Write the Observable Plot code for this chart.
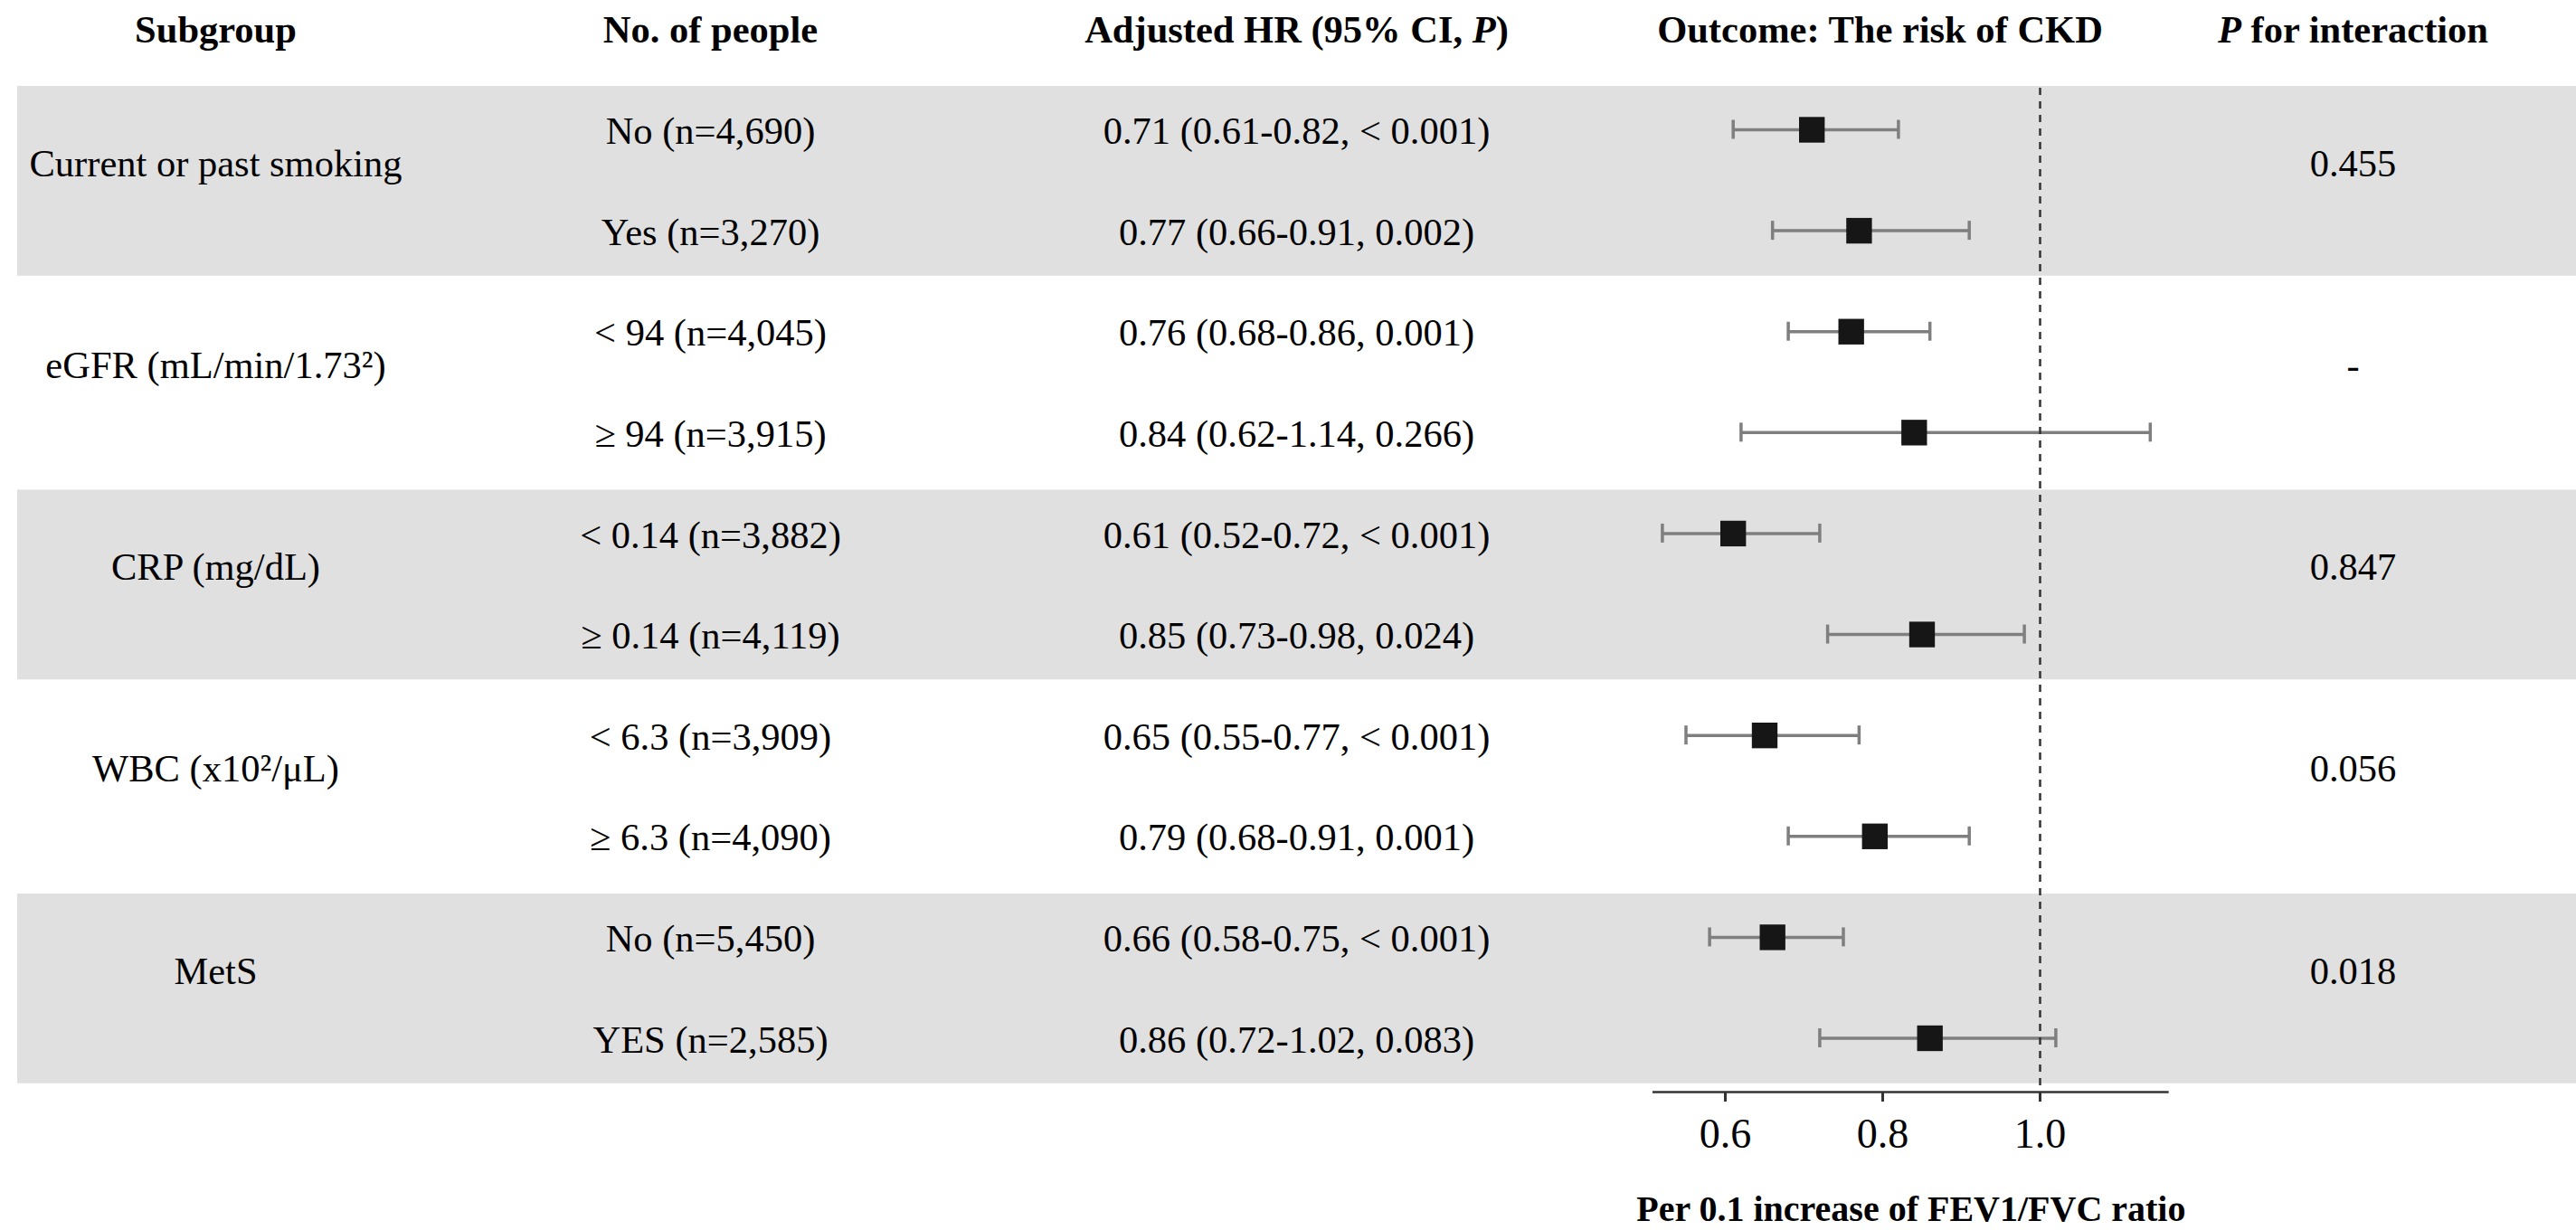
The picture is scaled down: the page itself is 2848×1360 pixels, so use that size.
<!DOCTYPE html>
<html>
<head>
<meta charset="utf-8">
<script src="https://cdn.jsdelivr.net/npm/d3@7"></script>
<script src="https://cdn.jsdelivr.net/npm/@observablehq/plot@0.6"></script>
<style>
  html, body { margin: 0; padding: 0; background: #ffffff; }
  #chart svg { display: block; }
</style>
</head>
<body>
<div id="chart"></div>
<script>
// ---------------- data ----------------
const headers = ["Subgroup", "No. of people", "Adjusted HR (95% CI, P)", "Outcome: The risk of CKD", "P for interaction"];
const subgroups = ["Current or past smoking", "eGFR (mL/min/1.73²)", "CRP (mg/dL)", "WBC (x10²/μL)", "MetS"];
const pInteraction = ["0.455", "-", "0.847", "0.056", "0.018"];
const levels = ["No (n=4,690)", "Yes (n=3,270)", "< 94 (n=4,045)", "≥ 94 (n=3,915)", "< 0.14 (n=3,882)", "≥ 0.14 (n=4,119)", "< 6.3 (n=3,909)", "≥ 6.3 (n=4,090)", "No (n=5,450)", "YES (n=2,585)"];
const hr    = [0.71, 0.77, 0.76, 0.84, 0.61, 0.85, 0.65, 0.79, 0.66, 0.86];
const lower = [0.61, 0.66, 0.68, 0.62, 0.52, 0.73, 0.55, 0.68, 0.58, 0.72];
const upper = [0.82, 0.91, 0.86, 1.14, 0.72, 0.98, 0.77, 0.91, 0.75, 1.02];
const pValues = ["< 0.001", "0.002", "0.001", "0.266", "< 0.001", "0.024", "< 0.001", "0.001", "< 0.001", "0.083"];
const xTicks = [0.6, 0.8, 1.0];
const axisExtent = [0.508, 1.164];
const refValue = 1.0;
const axisTitle = "Per 0.1 increase of FEV1/FVC ratio";

// ---------------- tables built from the arrays ----------------
const rows = levels.map((level, i) => ({
  i, level, hr: hr[i], lo: lower[i], hi: upper[i],
  label: `${hr[i].toFixed(2)} (${lower[i].toFixed(2)}-${upper[i].toFixed(2)}, ${pValues[i]})`
}));
const groups = subgroups.map((name, g) => ({g, name, p: pInteraction[g], first: 2 * g, last: 2 * g + 1}));
const shaded = groups.filter(d => d.g % 2 === 0);

// ---------------- layout ----------------
const W = 2848, H = 1360;
const mLeft = 19, mTop = 97, mBottom = 153;
const rowRange = [143, 1147.5];
const colCenters = [238, 785, 1433, 2078, 2601]; // subgroup, people, HR, outcome, P interaction
const CAP = 0.094;          // half height of CI caps (row units)
const GROUP_SHIFT = 0.32;   // group label position within a group (row units)
const FONT = "'Liberation Serif', 'Times New Roman', Times, serif";
const FS = 42.5;
const rowStep = (rowRange[1] - rowRange[0]) / 9;
const axisRow = 9 + (H - mBottom - rowRange[1]) / rowStep;

const textOpts = (col, extra) => ({frameAnchor: "left", textAnchor: "middle", lineAnchor: "middle",
  dx: colCenters[col] - mLeft, dy: 2, fontSize: FS, fill: "#000000", ...extra});

const chart = Plot.plot({
  width: W,
  height: H,
  marginLeft: mLeft,
  marginRight: 0,
  marginTop: mTop,
  marginBottom: mBottom,
  style: {fontFamily: FONT, background: "#ffffff", color: "#000000"},
  x: {type: "linear", domain: [0.6, 1.0], range: [1907, 2255]},
  y: {type: "linear", domain: [0, 9], range: rowRange, axis: null},
  marks: [
    // shaded group bands
    Plot.rect(shaded, {y1: d => d.first - 0.43, y2: d => d.last + 0.45, fill: "#e0e0e0"}),
    // confidence intervals
    Plot.ruleY(rows, {y: "i", x1: "lo", x2: "hi", stroke: "#7f7f7f", strokeWidth: 3.5}),
    Plot.ruleX(rows, {x: "lo", y1: d => d.i - CAP, y2: d => d.i + CAP, stroke: "#7f7f7f", strokeWidth: 3.5}),
    Plot.ruleX(rows, {x: "hi", y1: d => d.i - CAP, y2: d => d.i + CAP, stroke: "#7f7f7f", strokeWidth: 3.5}),
    // reference line
    Plot.ruleX([refValue], {stroke: "#333333", strokeWidth: 2.5, strokeDasharray: "8,7"}),
    // point estimates
    Plot.dot(rows, {x: "hr", y: "i", symbol: "square", r: 16, fill: "#161616", stroke: null}),
    // axis line + ticks
    Plot.ruleY([axisRow], {x1: axisExtent[0], x2: axisExtent[1], stroke: "#333333", strokeWidth: 2.5}),
    Plot.axisX({anchor: "bottom", ticks: xTicks, tickFormat: d3.format(".1f"), tickSize: 11, tickPadding: 18,
      fontSize: 46, stroke: "#333333", strokeWidth: 3, label: null, fill: "#000000"}),
    Plot.text([axisTitle], {frameAnchor: "bottom", lineAnchor: "middle", textAnchor: "middle",
      x: () => (axisExtent[0] + axisExtent[1]) / 2, dy: 130,
      text: d => d, fontSize: 40, fontWeight: "bold", fill: "#000000"}),
    // column headers
    ...headers.map((h, k) => Plot.text([h], textOpts(k, {y: () => -1, text: d => d, fontWeight: "bold"}))),
    // subgroup labels
    Plot.text(groups, textOpts(0, {y: d => d.first + GROUP_SHIFT, text: "name"})),
    // levels
    Plot.text(rows, textOpts(1, {y: "i", text: "level"})),
    // HR text
    Plot.text(rows, textOpts(2, {y: "i", text: "label"})),
    // P for interaction
    Plot.text(groups, textOpts(4, {y: d => d.first + GROUP_SHIFT, text: "p"}))
  ]
});

// italic "P" inside the headers
const headerSet = new Set(headers);
d3.select(chart).selectAll("text").each(function () {
  const t = this.textContent;
  if (!headerSet.has(t) || !/\bP\b/.test(t)) return;
  const parts = t.split(/\bP\b/);
  this.textContent = "";
  const sel = d3.select(this);
  parts.forEach((p, j) => {
    if (j > 0) sel.append("tspan").attr("font-style", "italic").text("P");
    if (p) sel.append("tspan").text(p);
  });
});

document.getElementById("chart").appendChild(chart);
</script>
</body>
</html>
